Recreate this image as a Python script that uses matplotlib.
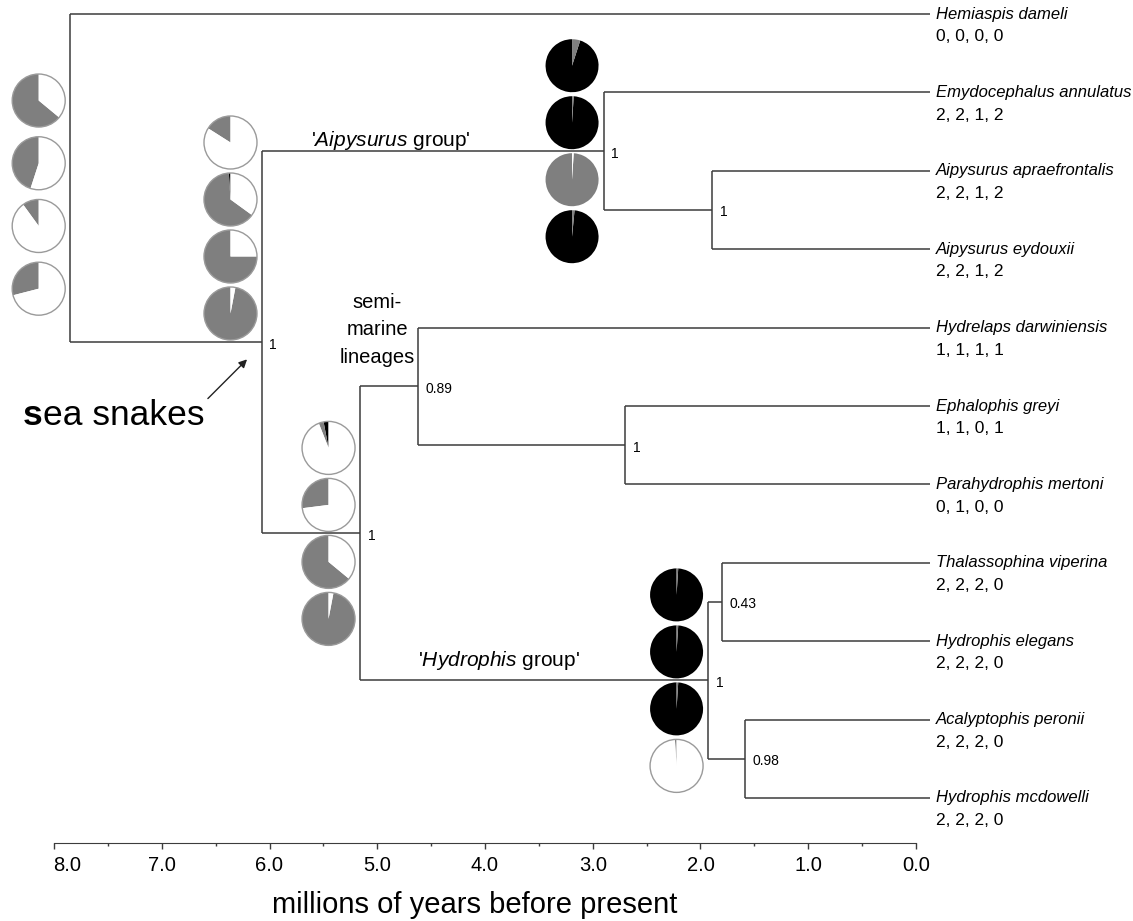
import matplotlib
matplotlib.use('Agg')
import matplotlib.pyplot as plt
from matplotlib.patches import Circle

plt.rcParams['font.family'] = 'Liberation Sans'
plt.rcParams['mathtext.fontset'] = 'custom'
plt.rcParams['mathtext.rm'] = 'Liberation Sans'
plt.rcParams['mathtext.it'] = 'Liberation Sans:italic'

# tips, top to bottom
tip_names = ['Hemiaspis dameli', 'Emydocephalus annulatus', 'Aipysurus apraefrontalis',
             'Aipysurus eydouxii', 'Hydrelaps darwiniensis', 'Ephalophis greyi',
             'Parahydrophis mertoni', 'Thalassophina viperina', 'Hydrophis elegans',
             'Acalyptophis peronii', 'Hydrophis mcdowelli']
tip_codes = ['0, 0, 0, 0', '2, 2, 1, 2', '2, 2, 1, 2', '2, 2, 1, 2', '1, 1, 1, 1', '1, 1, 0, 1',
             '0, 1, 0, 0', '2, 2, 2, 0', '2, 2, 2, 0', '2, 2, 2, 0', '2, 2, 2, 0']

# internal nodes: age in Myr, children (tip index or node name), posterior support
node_names = ['root', 'sea', 'aip', 'ae', 'hs', 'semi', 'ep', 'hyd', 'te', 'am']
node_ages = [7.98, 6.20, 3.03, 2.02, 5.29, 4.75, 2.83, 2.06, 1.93, 1.72]
node_children = [(0, 'sea'), ('aip', 'hs'), (1, 'ae'), (2, 3), ('semi', 'hyd'),
                 (4, 'ep'), (5, 6), ('te', 'am'), (7, 8), (9, 10)]
node_support = ['', '1', '1', '1', '1', '0.89', '1', '1', '0.43', '0.98']

# ancestral state pies, four characters per node: black / grey fractions (rest white)
pie_nodes = ['root', 'sea', 'hs', 'aip', 'hyd']
pie_black = [[0, 0, 0, 0],
             [0, 0.01, 0, 0],
             [0.03, 0, 0, 0],
             [0.95, 0.99, 0, 0.985],
             [0.99, 0.99, 0.99, 0]]
pie_grey = [[0.64, 0.45, 0.10, 0.29],
            [0.16, 0.64, 0.75, 0.97],
            [0.03, 0.27, 0.64, 0.97],
            [0.05, 0.01, 0.99, 0.015],
            [0.01, 0.01, 0.01, 0.01]]

axis_ticks = [8, 7, 6, 5, 4, 3, 2, 1, 0]
axis_minor = [7.5, 6.5, 5.5, 4.5, 3.5, 2.5, 1.5, 0.5]

W, H = 1133, 921
LINE = '#3c3c3c'
GREY = '#7f7f7f'

fig = plt.figure(figsize=(W / 100, H / 100), dpi=100)

# tree panel
ax = fig.add_axes([54 / W, 1 - 843 / H, (930 - 54) / W, 843 / H])
ax.set_xlim(8.13, 0)
ax.set_ylim(10.574, -0.1786)
ax.axis('off')

# time scale drawn as its own axis below the tree
sx = fig.add_axes([54 / W, 1 - 843 / H, (916 - 54) / W, 843 / H], facecolor='none')
sx.set_xlim(8, 0)

ages = dict(zip(node_names, node_ages))
kids = dict(zip(node_names, node_children))


def ypos(c):
    if isinstance(c, int):
        return float(c)
    return sum(ypos(k) for k in kids[c]) / 2.0


def age(c):
    return 0.0 if isinstance(c, int) else ages[c]


# tree
for name, sup in zip(node_names, node_support):
    a = ages[name]
    ys = [ypos(c) for c in kids[name]]
    ax.vlines(a, min(ys), max(ys), color=LINE, lw=1.1)
    for c, y in zip(kids[name], ys):
        ax.hlines(y, a, age(c), color=LINE, lw=1.1)
    if sup:
        ax.text(a - 0.07, ypos(name) + 0.03, sup, fontsize=10, ha='left', va='center')

for i, (nm, code) in enumerate(zip(tip_names, tip_codes)):
    ax.text(-0.055, i, nm, fontsize=12, style='italic', ha='left', va='center')
    ax.text(-0.055, i + 0.29, code, fontsize=12.5, ha='left', va='center')

# pies
pie_shift = {'root': 0.21, 'sea': -1.458}
pie_gap = {'root': 0.80}
r = 26.5
inv = fig.transFigure.inverted()
for name, blk, gry in zip(pie_nodes, pie_black, pie_grey):
    cx = ages[name] + 0.292
    cy = ypos(name) + pie_shift.get(name, 0)
    step = pie_gap.get(name, 0.727)
    for k in range(4):
        b, g = blk[k], gry[k]
        w = max(0.0, 1 - b - g)
        fx, fy = inv.transform(ax.transData.transform((cx, cy + (k - 1.5) * step)))
        pax = fig.add_axes([fx - r / W, fy - r / H, 2 * r / W, 2 * r / H])
        pax.pie([b, g, w], colors=['black', GREY, 'white'], startangle=90,
                counterclock=True, radius=1, wedgeprops=dict(linewidth=0))
        if w > 0.02:
            pax.add_patch(Circle((0, 0), 1, fill=False, edgecolor='#9a9a9a', lw=1.0, clip_on=False))
        pax.set_xlim(-1, 1)
        pax.set_ylim(-1, 1)
        pax.axis('off')

# annotations
ax.text(5.00, 1.61, r"'$\mathit{Aipysurus}$ group'", fontsize=15, ha='center', va='center')
ax.text(4.00, 8.24, r"'$\mathit{Hydrophis}$ group'", fontsize=15, ha='center', va='center')
ax.text(5.13, 4.03, 'semi-\nmarine\nlineages', fontsize=14.5, ha='center', va='center',
        multialignment='center', linespacing=1.55)
t1 = ax.text(8.42, 5.12, 's', fontsize=25.5, fontweight='bold', ha='left', va='center')
ax.annotate('ea snakes', xy=(1, 0), xycoords=t1, fontsize=25.5, ha='left', va='bottom')
ax.annotate('', xy=(6.32, 4.38), xytext=(6.72, 4.93),
            arrowprops=dict(arrowstyle='-|>', color='#222222', lw=1, mutation_scale=12))

# time axis
for s in ['left', 'right', 'top']:
    sx.spines[s].set_visible(False)
sx.spines['bottom'].set_color(LINE)
sx.set_yticks([])
sx.set_xticks(axis_ticks)
sx.set_xticklabels([''] + ['%.1f' % t for t in axis_ticks[1:]])
sx.set_xticks(axis_minor, minor=True)
sx.tick_params(axis='x', which='major', direction='out', length=4, width=1, color=LINE,
               labelsize=14.5, pad=5)
sx.tick_params(axis='x', which='minor', direction='out', length=2.5, width=1, color=LINE)
sx.annotate('%.1f' % axis_ticks[0], xy=(7.88, 0), xycoords=('data', 'axes fraction'),
            xytext=(0, -9), textcoords='offset points', fontsize=14.5, ha='center', va='top')
sx.set_xlabel('millions of years before present', fontsize=21, labelpad=12)
sx.xaxis.label.set_x((475 - 54) / (916 - 54))

fig.savefig('out.png', dpi=100)
